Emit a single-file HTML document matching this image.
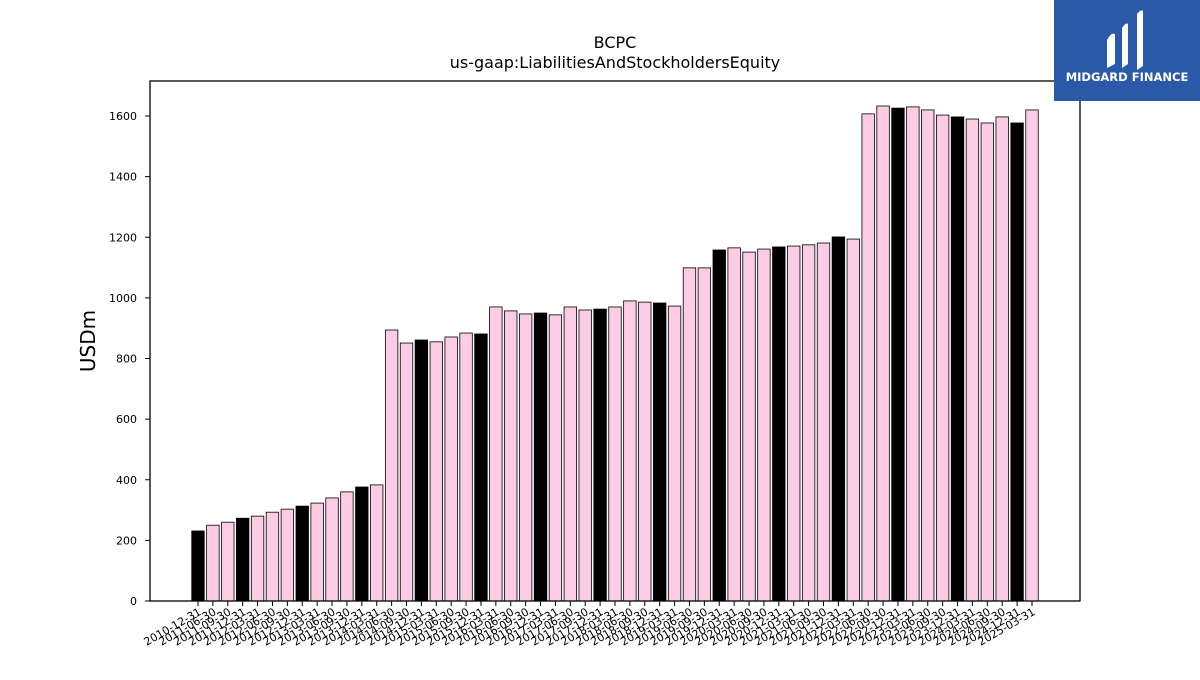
<!DOCTYPE html>
<html><head><meta charset="utf-8"><style>
body{margin:0;background:#fff;width:1200px;height:675px;overflow:hidden;font-family:"Liberation Sans","DejaVu Sans",sans-serif}
</style></head><body>
<svg id="chart" width="1200" height="675" xmlns="http://www.w3.org/2000/svg" font-family="DejaVu Sans, Liberation Sans, sans-serif">
<rect width="1200" height="675" fill="#fff"/>
<text x="615" y="48" text-anchor="middle" font-size="16">BCPC</text>
<text x="615" y="68" text-anchor="middle" font-size="16">us-gaap:LiabilitiesAndStockholdersEquity</text>
<text transform="translate(95,341) rotate(-90)" text-anchor="middle" font-size="20">USDm</text>
<g id="bars"></g><g id="yticks"></g><g id="xticks"></g>
<rect x="150" y="81" width="930" height="520" fill="none" stroke="#000" stroke-width="1.3"/>
<g>
<rect x="1054" y="0" width="146" height="101" fill="#2b59a9"/>
<path d="M1107 40 q4-8 8-6 v30 l-8 4z M1122 28 q4-6 6-4 v40 l-6 4z M1137 14 q4-5 6-3 v55 l-6 4z" fill="#fff"/>
<text x="1127" y="81" text-anchor="middle" font-size="11.5" font-weight="bold" fill="#fff">MIDGARD FINANCE</text>
</g>
</svg>
<script>
const categories=["2010-12-31","2011-06-30","2011-09-30","2011-12-31","2012-03-31","2012-06-30","2012-09-30","2012-12-31","2013-03-31","2013-06-30","2013-09-30","2013-12-31","2014-03-31","2014-06-30","2014-09-30","2014-12-31","2015-03-31","2015-06-30","2015-09-30","2015-12-31","2016-03-31","2016-06-30","2016-09-30","2016-12-31","2017-03-31","2017-06-30","2017-09-30","2017-12-31","2018-03-31","2018-06-30","2018-09-30","2018-12-31","2019-03-31","2019-06-30","2019-09-30","2019-12-31","2020-03-31","2020-06-30","2020-09-30","2020-12-31","2021-03-31","2021-06-30","2021-09-30","2021-12-31","2022-03-31","2022-06-30","2022-09-30","2022-12-31","2023-03-31","2023-06-30","2023-09-30","2023-12-31","2024-03-31","2024-06-30","2024-09-30","2024-12-31","2025-03-31"];
const values=[231,250,260,273,280,293,303,313,323,340,360,376,383,894,851,861,855,871,884,881,970,957,947,950,944,970,960,963,970,990,986,983,973,1099,1099,1158,1165,1151,1161,1168,1171,1175,1181,1201,1194,1607,1633,1626,1630,1620,1603,1597,1590,1577,1597,1577,1620];
const yTicks=[0,200,400,600,800,1000,1200,1400,1600];
const NS="http://www.w3.org/2000/svg";
const x0=198,step=(1032-198)/56,bw=12.5;
const xPos=i=>x0+i*step;
const yPos=v=>601-v*(485/1600);
const bars=document.getElementById('bars'),yt=document.getElementById('yticks'),xt=document.getElementById('xticks');
values.forEach((v,i)=>{
 const r=document.createElementNS(NS,'rect');
 
 
 r.setAttribute('x',xPos(i)-bw/2);r.setAttribute('y',yPos(v));
 r.setAttribute('width',bw);r.setAttribute('height',601-yPos(v));
 r.setAttribute('fill',categories[i].endsWith('12-31')?'#000':'#fccce4');
 r.setAttribute('stroke','#000');r.setAttribute('stroke-width','0.8');
 bars.appendChild(r);
 const t=document.createElementNS(NS,'line');
 
 
 t.setAttribute('x1',xPos(i));t.setAttribute('x2',xPos(i));t.setAttribute('y1',601);t.setAttribute('y2',606);t.setAttribute('stroke','#000');
 xt.appendChild(t);
 const l=document.createElementNS(NS,'text');
 
 
 l.setAttribute('text-anchor','end');l.setAttribute('font-size','11');
 l.setAttribute('transform','translate('+(xPos(i)+4)+',614) rotate(-30)');
 l.textContent=categories[i];xt.appendChild(l);
});
yTicks.forEach(v=>{
 const t=document.createElementNS(NS,'line');
 
 
 t.setAttribute('x1',145);t.setAttribute('x2',150);t.setAttribute('y1',yPos(v));t.setAttribute('y2',yPos(v));t.setAttribute('stroke','#000');
 yt.appendChild(t);
 const l=document.createElementNS(NS,'text');
 
 
 l.setAttribute('x',137);l.setAttribute('y',yPos(v)+4);l.setAttribute('text-anchor','end');l.setAttribute('font-size','11');
 l.textContent=v;yt.appendChild(l);
});
</script>
</body></html>
